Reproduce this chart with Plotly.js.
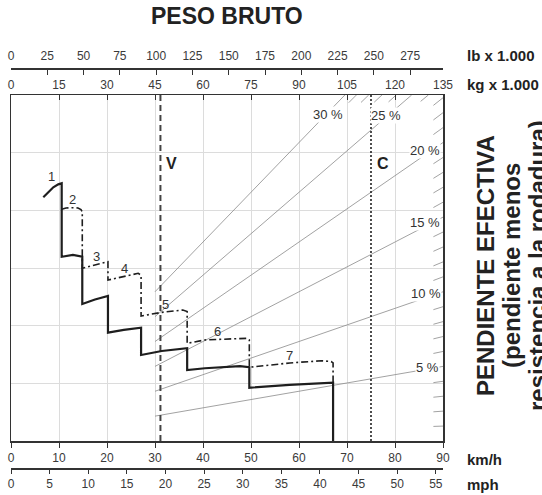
<!DOCTYPE html>
<html>
<head>
<meta charset="utf-8">
<script src="https://cdn.plot.ly/plotly-3.0.1.min.js"></script>
<style>html,body{margin:0;padding:0;background:#fff}#chart{width:542px;height:495px}</style>
</head>
<body>
<div id="chart"></div>
<script>
// ---------- data ----------
// rimpull axis top (kg x 1.000 of effective-grade force)
const rimpullMax = 31.3;

// full-power (solid) curve per gear: speed km/h, rimpull
const solidSpeed = [
  [6.73, 7.77, 8.81, 9.85, 10.56],
  [10.56, 12.9, 14.85],
  [14.85, 17.5, 20.2],
  [20.2, 23.5, 27.1],
  [27.1, 31.4, 36.7],
  [36.7, 40.4, 47.7, 49.65],
  [49.65, 58.0, 67.1, 67.1]
];
const solidPull = [
  [22.05, 22.55, 22.95, 23.22, 23.31],
  [16.67, 16.83, 16.67],
  [12.39, 12.8, 13.12],
  [9.80, 10.05, 10.25],
  [7.78, 8.14, 8.39],
  [6.42, 6.58, 6.78, 6.67],
  [4.82, 5.08, 5.27, 0]
];
// dash-dot curve per gear (gears 2..7)
const dashSpeed = [
  [10.56, 11.46, 12.65, 13.96, 14.58, 14.85],
  [14.85, 17.5, 20.2],
  [20.2, 23.5, 26.5, 27.1],
  [27.1, 31.4, 35.8, 36.7],
  [36.7, 40.4, 49.1, 49.65],
  [49.65, 58.1, 64.7, 66.7, 67.1, 67.1]
];
const dashPull = [
  [20.96, 21.08, 21.1, 21.08, 20.94, 20.72],
  [15.62, 15.95, 16.22],
  [14.56, 14.9, 15.17, 15.0],
  [11.31, 11.64, 11.85, 11.71],
  [8.84, 9.14, 9.29, 9.14],
  [6.67, 7.06, 7.26, 7.19, 7.06, 5.27]
];
const gearNames = ['1','2','3','4','5','6','7'];
const gearLabelSpeed = [8.48, 12.85, 17.71, 23.6, 32.1, 43.06, 57.98];
const gearLabelPull  = [23.97, 21.89, 16.67, 15.62, 12.39, 9.89, 7.69];

// effective grade lines (%)
const gradeLabeled = [5, 10, 15, 20, 25, 30];
const gradeLabelText = ['5 %', '10 %', '15 %', '20 %', '25 %', '30 %'];
const gradeLabelSpeed = [86.67, 86.46, 86.25, 86.25, 78.13, 66.04];
const gradeLabelPull  = [6.69, 13.30, 19.81, 26.32, 29.45, 29.58];
const gradeTicks = [1,2,3,4,6,7,8,9,11,12,13,14,16,17,18,19,21,22,23,24,26,27,28,29];
const gradeStartKg = 45;
const maxKg = 135;

// empty (V) and loaded (C) gross weights, kg x 1.000
const refNames = ['V', 'C'];
const refKg = [46.7, 112.5];

// texts
const titleText = 'PESO BRUTO';
const sideTitleLines = ['PENDIENTE EFECTIVA', '(pendiente menos', 'resistencia a la rodadura)'];
const unitLabels = ['lb x 1.000', 'kg x 1.000', 'km/h', 'mph'];

// axis ranges
const kmhMax = 90;
const mphMax = 90 / 1.609344;
const lbMax = 135 / 0.45359237;

// ---------- build traces ----------
const traces = [];
gradeLabeled.forEach(g => {
  const f = g / 100;
  const wEnd = Math.min(maxKg, rimpullMax / f);
  traces.push({x: [gradeStartKg, wEnd], y: [gradeStartKg * f, wEnd * f], xaxis: 'x', yaxis: 'y',
    mode: 'lines', line: {color: '#8a8a8a', width: 0.8}, hoverinfo: 'skip', showlegend: false});
});
const hx = [], hy = [];
gradeTicks.forEach(g => {
  const f = g / 100;
  const wEnd = Math.min(maxKg, rimpullMax / f);
  const wStart = wEnd - (wEnd < maxKg ? 2.4 : 3);
  hx.push(wStart, wEnd, null); hy.push(wStart * f, wEnd * f, null);
});
traces.push({x: hx, y: hy, xaxis: 'x', yaxis: 'y', mode: 'lines',
  line: {color: '#8a8a8a', width: 0.8}, hoverinfo: 'skip', showlegend: false});
traces.push({x: [refKg[0], refKg[0]], y: [0, rimpullMax], xaxis: 'x', yaxis: 'y', mode: 'lines',
  line: {color: '#444', width: 2, dash: '6px,4px'}, hoverinfo: 'skip', showlegend: false});
traces.push({x: [refKg[1], refKg[1]], y: [0, rimpullMax], xaxis: 'x', yaxis: 'y', mode: 'lines',
  line: {color: '#222', width: 1.6, dash: '2px,2px'}, hoverinfo: 'skip', showlegend: false});
const sx = [].concat(...solidSpeed), sy = [].concat(...solidPull);
traces.push({x: sx, y: sy, xaxis: 'x2', yaxis: 'y', mode: 'lines',
  line: {color: '#1e1e1e', width: 2.2}, hoverinfo: 'skip', showlegend: false});
const dx = [].concat(...dashSpeed), dy = [].concat(...dashPull);
traces.push({x: dx, y: dy, xaxis: 'x2', yaxis: 'y', mode: 'lines',
  line: {color: '#1e1e1e', width: 1.6, dash: '7px,3px,2px,3px'}, hoverinfo: 'skip', showlegend: false});
traces.push({x: [0], y: [null], xaxis: 'x3', yaxis: 'y', mode: 'lines', hoverinfo: 'skip', showlegend: false});
traces.push({x: [0], y: [null], xaxis: 'x4', yaxis: 'y', mode: 'lines', hoverinfo: 'skip', showlegend: false});

// ---------- layout ----------
const FONT = 'Liberation Sans, Arial, sans-serif';
const tickFont = {family: FONT, size: 12, color: '#3a3a3a'};
const lineC = '#333';
const H = 495, T = 45, B = 8, plotH = H - T - B;
const py2paper = py => (H - B - py) / plotH;
const px2paper = px => (px - 11) / 432;

const annotations = [];
gearNames.forEach((n, i) => annotations.push({xref: 'x2', yref: 'y', x: gearLabelSpeed[i], y: gearLabelPull[i],
  xanchor: 'center', yanchor: 'middle',
  text: n, showarrow: false, font: {family: FONT, size: 13, color: '#333'}}));
gradeLabeled.forEach((g, i) => annotations.push({xref: 'x2', yref: 'y', x: gradeLabelSpeed[i], y: gradeLabelPull[i],
  xanchor: 'center', yanchor: 'middle',
  text: gradeLabelText[i], showarrow: false, bgcolor: '#ffffff', borderpad: 0,
  font: {family: FONT, size: 13, color: '#333'}}));
refNames.forEach((n, i) => annotations.push({xref: 'x', yref: 'y', x: refKg[i], y: 25.06, xanchor: 'left',
  yanchor: 'middle', xshift: 4, text: '<b>' + n + '</b>', showarrow: false,
  font: {family: FONT, size: 16, color: '#222'}}));
annotations.push({xref: 'paper', yref: 'paper', x: px2paper(227), y: py2paper(16), xanchor: 'center',
  yanchor: 'middle', text: '<b>' + titleText + '</b>', showarrow: false,
  font: {family: FONT, size: 23, color: '#222'}});
const sideX = [485, 511, 537];
sideTitleLines.forEach((t, i) => annotations.push({xref: 'paper', yref: 'paper', x: px2paper(sideX[i]),
  y: py2paper(266), xanchor: 'center', yanchor: 'middle', textangle: -90,
  text: '<b>' + t + '</b>', showarrow: false, font: {family: FONT, size: 24, color: '#222'}}));
const unitY = [55, 84, 459, 484];
unitLabels.forEach((t, i) =>
  annotations.push({xref: 'paper', yref: 'paper', x: px2paper(465), y: py2paper(unitY[i]), xanchor: 'left',
    yanchor: 'middle', text: '<b>' + t + '</b>', showarrow: false,
    font: {family: FONT, size: 15, color: '#222'}}));

const layout = {
  width: 542, height: 495,
  margin: {l: 11, r: 99, t: T, b: B, pad: 0},
  paper_bgcolor: '#fff', plot_bgcolor: '#fff',
  showlegend: false,
  font: {family: FONT},
  xaxis: {range: [0, maxKg], side: 'top', anchor: 'y', tickmode: 'linear', tick0: 0, dtick: 15,
    ticks: 'inside', ticklen: 5, tickcolor: lineC, showline: true, mirror: true, linecolor: lineC, linewidth: 1.5,
    showgrid: true, gridcolor: '#dcdcdc', gridwidth: 1, zeroline: false, tickfont: tickFont, fixedrange: true},
  xaxis2: {range: [0, kmhMax], overlaying: 'x', side: 'bottom', anchor: 'y', tickmode: 'linear', tick0: 0, dtick: 10,
    ticks: 'outside', ticklen: 5, tickcolor: lineC, showline: true, linecolor: lineC, linewidth: 1.5,
    showgrid: false, zeroline: false, tickfont: tickFont, fixedrange: true},
  xaxis3: {range: [0, mphMax], overlaying: 'x', side: 'bottom', anchor: 'free', position: py2paper(468),
    tickmode: 'linear', tick0: 0, dtick: 5, ticks: 'outside', ticklen: 4, tickcolor: lineC, showline: true,
    linecolor: lineC, linewidth: 1.5, showgrid: false, zeroline: false, tickfont: tickFont, fixedrange: true},
  xaxis4: {range: [0, lbMax], overlaying: 'x', side: 'top', anchor: 'free', position: py2paper(68),
    tickmode: 'linear', tick0: 0, dtick: 25, ticks: 'inside', ticklen: 5, tickcolor: lineC, showline: true,
    linecolor: lineC, linewidth: 1.5, showgrid: false, zeroline: false, tickfont: tickFont, fixedrange: true,
    ticklabelstandoff: 3},
  yaxis: {domain: [py2paper(441), py2paper(95)], range: [0, rimpullMax], tickmode: 'linear', tick0: 0,
    dtick: rimpullMax / 6, showticklabels: false, ticks: '', showline: true, mirror: true, linecolor: lineC,
    linewidth: 1.5, showgrid: true, gridcolor: '#dcdcdc', gridwidth: 1, zeroline: false, fixedrange: true},
  annotations: annotations
};

Plotly.newPlot('chart', traces, layout, {staticPlot: true, displayModeBar: false});
</script>
</body>
</html>
